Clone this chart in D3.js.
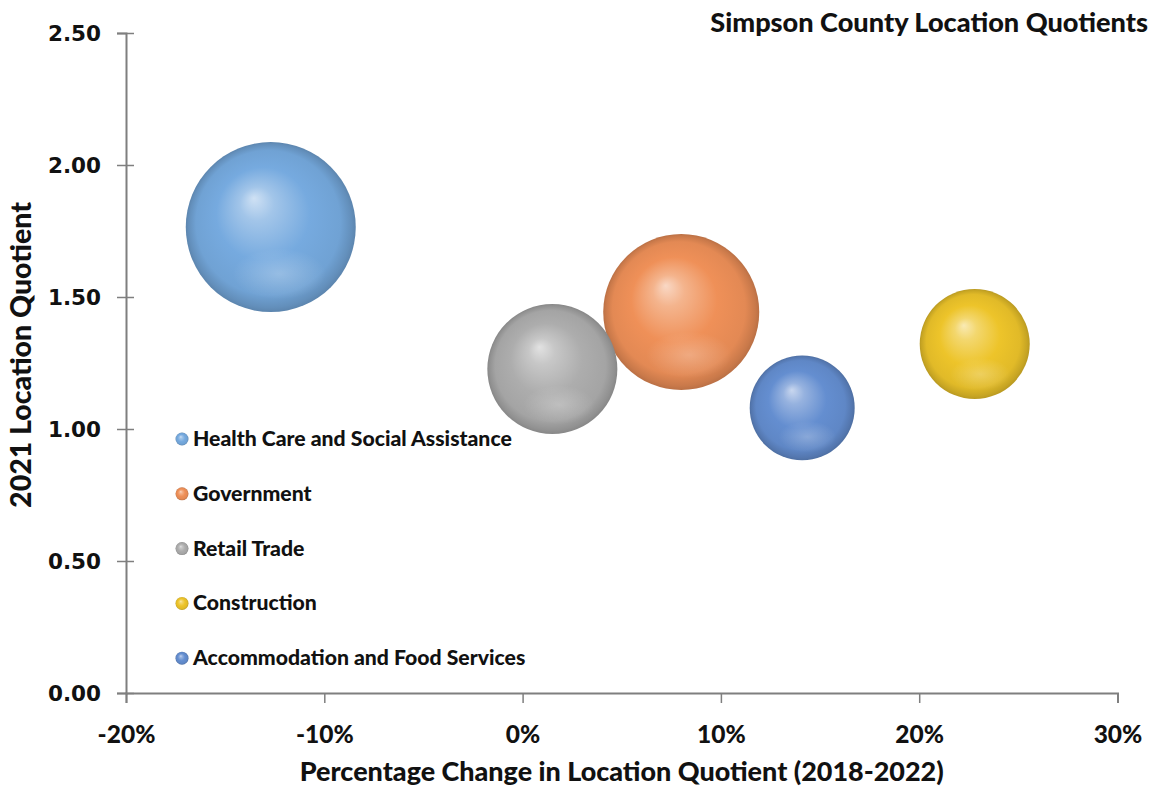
<!DOCTYPE html>
<html><head><meta charset="utf-8">
<script src="https://cdn.jsdelivr.net/npm/d3@7"></script>
<style>body{margin:0;background:#fff;}svg{display:block;}</style>
</head><body>
<svg id="c" width="1150" height="789"></svg>
<script>
const categories = ["Health Care and Social Assistance","Government","Retail Trade","Construction","Accommodation and Food Services"];
const pctChange = [-12.7, 8.0, 1.5, 22.8, 14.1];      // % change in LQ 2018-2022
const lq2021 = [1.765, 1.443, 1.227, 1.322, 1.08];    // 2021 location quotient
const bubbleSize = [1445, 1217, 845, 605, 551];       // bubble size (relative)
const colors = ["#76AADF","#EF9058","#ADADAD","#EDC42A","#648ED0"];
const xTicks = [-20,-10,0,10,20,30];
const yTicks = [0,0.5,1,1.5,2,2.5];

const svg = d3.select("#c");
const L = 126, R = 1117.5, T = 33, B = 693;
const x = d3.scaleLinear().domain([-20,30]).range([L,R]);
const y = d3.scaleLinear().domain([0,2.5]).range([B,T]);
const r = d3.scaleSqrt().domain([0, d3.max(bubbleSize)]).range([0,85]);

const defs = svg.append("defs");
function mix(c, t, k){ return d3.interpolateRgb(c, t)(k); }
colors.forEach((c,i)=>{
  const g = defs.append("radialGradient").attr("id","g"+i)
    .attr("cx","50%").attr("cy","50%").attr("r","50%").attr("fx","40%").attr("fy","33%");
  [[0, mix(c,"#fff",0.65)],[0.2, mix(c,"#fff",0.32)],[0.55, c],[0.85, mix(c,"#000",0.05)],[0.96, mix(c,"#000",0.16)],[1, mix(c,"#000",0.22)]]
    .forEach(([o,col])=>g.append("stop").attr("offset",o).attr("stop-color",col));
});
const refl = defs.append("radialGradient").attr("id","refl").attr("cx","50%").attr("cy","50%").attr("r","50%");
refl.append("stop").attr("offset",0).attr("stop-color","#fff").attr("stop-opacity",0.25);
refl.append("stop").attr("offset",1).attr("stop-color","#fff").attr("stop-opacity",0);

// axes
const axisColor = "#7f7f7f";
const xAxis = svg.append("g").attr("transform",`translate(0,${B})`)
  .call(d3.axisBottom(x).tickValues(xTicks).tickSize(10).tickFormat(d=>d+"%"));
const yAxis = svg.append("g").attr("transform",`translate(${L},0)`)
  .call(d3.axisLeft(y).tickValues(yTicks).tickSize(9).tickFormat(d3.format(".2f")));
[xAxis,yAxis].forEach(a=>{
  a.select(".domain").attr("stroke",axisColor).attr("stroke-width",2);
  a.selectAll(".tick line").attr("stroke",axisColor).attr("stroke-width",1.5);
});
yAxis.selectAll(".tick line").attr("x2",-9).attr("x1",8);
xAxis.selectAll(".tick text").attr("font-family","Lato").attr("font-weight","900")
  .attr("font-size",24.5).attr("fill","#111").attr("dy",0).attr("y",50);
yAxis.selectAll(".tick text").attr("font-family","DejaVu Sans").attr("font-weight","bold")
  .attr("font-size",21.5).attr("fill","#111").attr("x",-25).attr("dy","0.36em");

function fit(sel, target){
  const fs = +sel.attr("font-size");
  const w = sel.node().getComputedTextLength();
  sel.attr("font-size", fs*target/w);
}

// bubbles (draw larger first)
const idx = d3.range(categories.length).sort((a,b)=>bubbleSize[b]-bubbleSize[a]);
const bub = svg.append("g").selectAll("g").data(idx).join("g")
  .attr("transform",i=>`translate(${x(pctChange[i])},${y(lq2021[i])})`);
bub.append("circle").attr("r",i=>r(bubbleSize[i])).attr("fill",i=>`url(#g${i})`);
bub.append("ellipse").attr("cx",i=>r(bubbleSize[i])*0.1).attr("cy",i=>r(bubbleSize[i])*0.55)
  .attr("rx",i=>r(bubbleSize[i])*0.55).attr("ry",i=>r(bubbleSize[i])*0.3).attr("fill","url(#refl)");

// legend
const leg = svg.append("g").selectAll("g").data(categories).join("g")
  .attr("transform",(d,i)=>`translate(182,${439 + i*54.8})`);
leg.append("circle").attr("r",6.5).attr("fill",(d,i)=>`url(#g${i})`);
const lt = leg.append("text").attr("x",11).attr("y",7).attr("font-family","Lato").attr("font-weight","900")
  .attr("font-size",17.5).attr("fill","#111").text(d=>d);
const lt0 = d3.select(lt.nodes()[0]);
fit(lt0, 319);
lt.attr("font-size", lt0.attr("font-size"));

// titles
const title = svg.append("text").attr("x",1148).attr("y",32).attr("text-anchor","end")
  .attr("font-family","Lato").attr("font-weight","900").attr("font-size",20).attr("fill","#111")
  .text("Simpson County Location Quotients");
fit(title, 438);
const xt = svg.append("text").attr("x",(L+R)/2).attr("y",781).attr("text-anchor","middle")
  .attr("font-family","Lato").attr("font-weight","900").attr("font-size",22).attr("fill","#111")
  .text("Percentage Change in Location Quotient (2018-2022)");
fit(xt, 644);
const yt = svg.append("text").attr("transform","translate(31,355) rotate(-90)").attr("text-anchor","middle")
  .attr("font-family","Lato").attr("font-weight","900").attr("font-size",22).attr("fill","#111")
  .text("2021 Location Quotient");
fit(yt, 306);
</script>
</body></html>
